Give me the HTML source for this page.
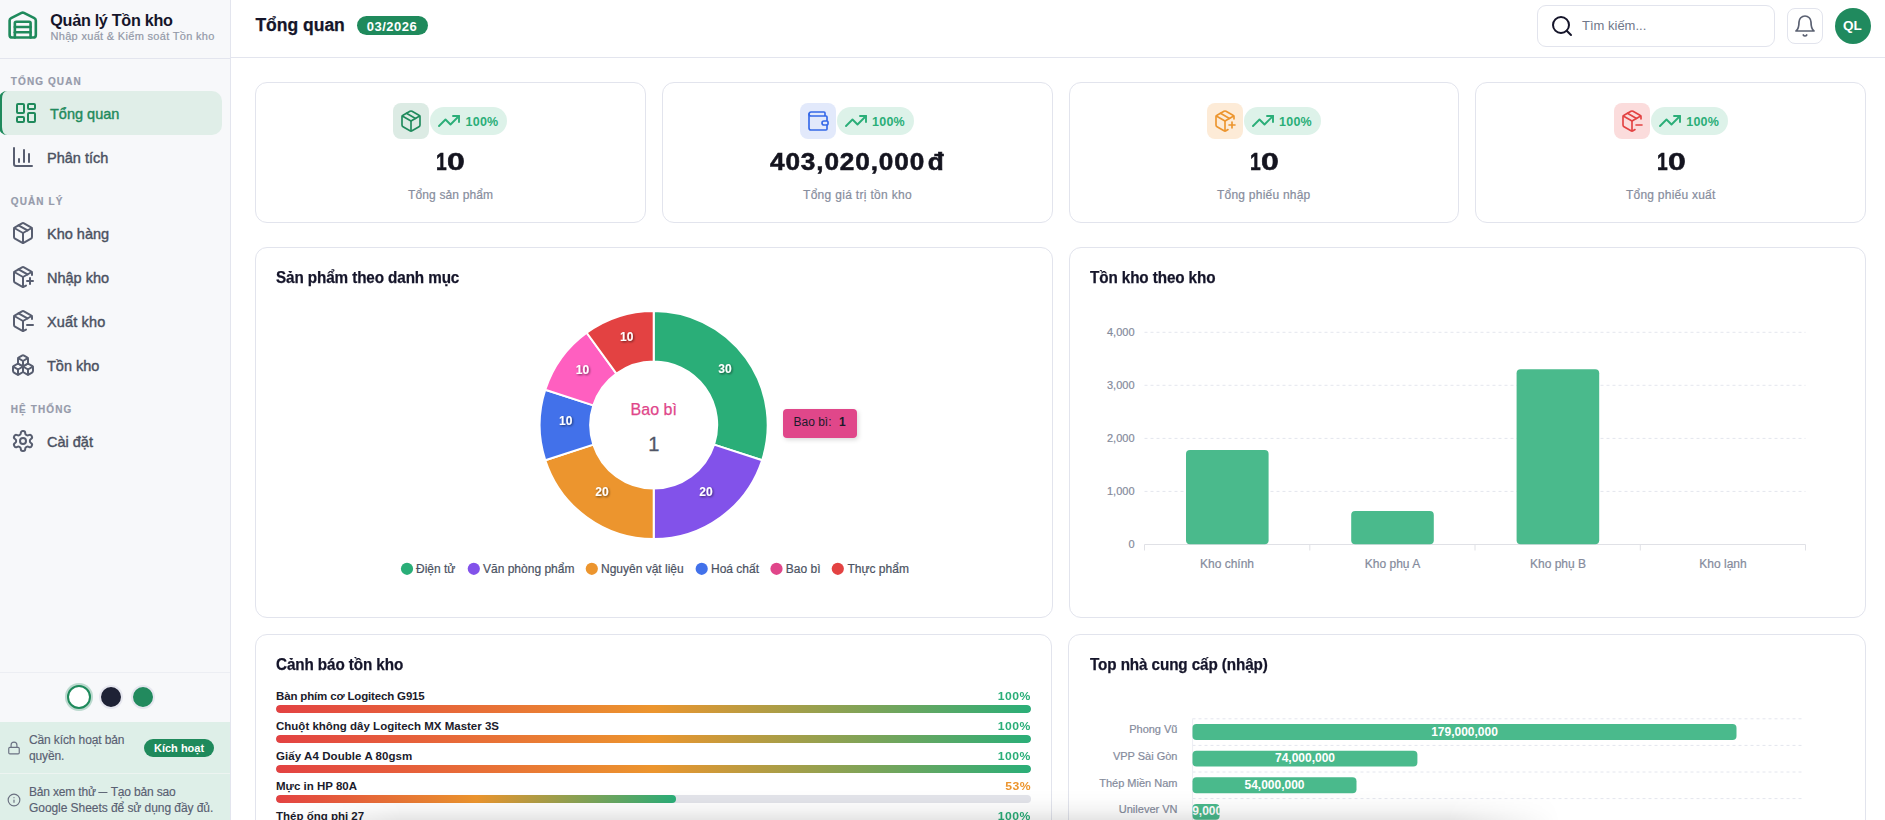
<!DOCTYPE html>
<html lang="vi">
<head>
<meta charset="utf-8">
<title>Quản lý Tồn kho</title>
<style>
*{box-sizing:border-box;margin:0;padding:0}
html,body{width:1885px;height:820px;overflow:hidden;background:#fff}
body{font-family:"Liberation Sans",sans-serif;color:#15152a;position:relative}
.abs,.t{position:absolute;white-space:nowrap}
.t{line-height:1;transform-origin:0 50%}
svg.ic{position:absolute;fill:none;stroke:currentColor;stroke-width:2;stroke-linecap:round;stroke-linejoin:round}

/* ---------- sidebar ---------- */
#side{position:absolute;left:0;top:0;width:231px;height:820px;background:#f7f8fa;border-right:1px solid #e3e5ee}
#brand{position:absolute;left:0;top:0;width:230px;height:59px;border-bottom:1px solid #e3e5ee}
.sec{font-size:10px;font-weight:700;letter-spacing:1.1px;color:#969bab;left:10.8px;margin-top:.4px;-webkit-text-stroke:.2px #969bab}
.nav{position:absolute;left:0;width:222px;height:44px;color:#585e70}
.nav .t{font-size:14.5px;left:47px;top:16.2px;color:#4b5161;-webkit-text-stroke:.4px currentColor}
.nav svg.ic{left:11px;top:10px;width:24px;height:24px}
.nav.on{left:-.7px;width:222.7px;background:#e0eee8;border-left:3px solid #1f8a5c;border-radius:8px 10px 10px 8px;color:#1f8a5c}
.nav.on .t{left:47.7px;color:#1f8a5c}
.nav.on svg.ic{left:11.7px}
.dot{position:absolute;top:685px;width:24px;height:24px;border-radius:50%;border:2px solid #e6e7ef}
#lic{position:absolute;left:0;top:722px;width:230px;height:51px;background:#deefe8}
#demo{position:absolute;left:0;top:774px;width:230px;height:46px;background:#deefe8}
.note{font-size:12px;color:#596072;left:29px;-webkit-text-stroke:.15px #596072}
.dash{display:inline-block;transform:scaleX(.73);margin:0 -1.6px}

/* ---------- header ---------- */
#head{position:absolute;left:231px;top:0;width:1654px;height:58px;border-bottom:1px solid #e3e5ee;background:#fff}

/* ---------- cards ---------- */
.card{position:absolute;background:#fff;border:1px solid #e2e4ed;border-radius:12px}
.ctitle{font-size:16px;letter-spacing:-.1px;transform:scaleX(.952);font-weight:700;color:#15152a;margin-top:1px;-webkit-text-stroke:.25px #15152a}
.ibox{position:absolute;width:36px;height:36px;border-radius:8px;top:103px}
.ibox svg.ic{left:6px;top:6px;width:24px;height:24px;stroke-width:1.65}
.pill{position:absolute;top:107px;width:77px;height:28px;border-radius:14px;background:#ddf2e9;color:#2aae78}
.pill svg.ic{left:7px;top:2px;width:24px;height:24px;stroke-width:1.9}
.pill .t{left:35.6px;top:9.2px;font-size:12.5px;letter-spacing:.2px;font-weight:700;color:#2aae78}
.num{font-size:24px;font-weight:700;color:#14141f;top:150.1px;-webkit-text-stroke:.55px #14141f}
.num b,.num i{display:inline-block;font-style:normal;font-weight:700;transform-origin:0 50%}
.num b{transform:scaleX(.8);margin-right:-2.4px}
.num i{transform:scaleX(1.33)}
.lab{font-size:12px;color:#878d9d;top:188.9px;-webkit-text-stroke:.2px #878d9d}

.wl{left:276px;font-size:11.5px;font-weight:700;color:#1b1b2b}
.wp{right:853.9px;font-size:11.4px;letter-spacing:.45px;font-weight:700;color:#2aae78;transform-origin:100% 50%;transform:scaleX(1.07);margin-top:.3px}
.wb{position:absolute;left:276px;width:755px;height:8px;border-radius:4px;background:#e3e4ea;overflow:hidden}
.wb i{display:block;height:8px;border-radius:4px;background:linear-gradient(90deg,#e34242 0%,#ec952e 50%,#2aae78 100%)}
</style>
</head>
<body>

<!-- ================= SIDEBAR ================= -->
<div id="side">
  <div id="brand">
    <svg class="ic" style="left:6.68px;top:10.45px;width:31.44px;height:31.44px;color:#1f8a5c;stroke-width:2" viewBox="0 0 24 24"><path d="M18 21V10a1 1 0 0 0-1-1H7a1 1 0 0 0-1 1v11"/><path d="M22 19a2 2 0 0 1-2 2H4a2 2 0 0 1-2-2V8a2 2 0 0 1 1.132-1.803l7.95-3.974a2 2 0 0 1 1.837 0l7.95 3.974A2 2 0 0 1 22 8z"/><path d="M6 13h12"/><path d="M6 17h12"/></svg>
    <div class="t" id="b1" style="left:50.3px;top:11.5px;font-size:16.2px;letter-spacing:-.3px;font-weight:700;color:#15152a">Quản lý Tồn kho</div>
    <div class="t" id="b2" style="left:50.5px;top:30.5px;font-size:11px;letter-spacing:.31px;color:#9399a8;-webkit-text-stroke:.2px #9399a8">Nhập xuất &amp; Kiểm soát Tồn kho</div>
  </div>

  <div class="t sec" id="s1" style="top:76.5px">TỔNG QUAN</div>
  <div class="nav on" style="top:91px">
    <svg class="ic" viewBox="0 0 24 24"><rect width="7" height="9" x="3" y="3" rx="1"/><rect width="7" height="5" x="14" y="3" rx="1"/><rect width="7" height="9" x="14" y="12" rx="1"/><rect width="7" height="5" x="3" y="16" rx="1"/></svg>
    <div class="t" id="n1">Tổng quan</div>
  </div>
  <div class="nav" style="top:135px">
    <svg class="ic" viewBox="0 0 24 24"><path d="M3 3v16a2 2 0 0 0 2 2h16"/><path d="M18 17V9"/><path d="M13 17V5"/><path d="M8 17v-3"/></svg>
    <div class="t" id="n2">Phân tích</div>
  </div>

  <div class="t sec" id="s2" style="top:196.5px">QUẢN LÝ</div>
  <div class="nav" style="top:211px">
    <svg class="ic" viewBox="0 0 24 24"><path d="M11 21.73a2 2 0 0 0 2 0l7-4A2 2 0 0 0 21 16V8a2 2 0 0 0-1-1.73l-7-4a2 2 0 0 0-2 0l-7 4A2 2 0 0 0 3 8v8a2 2 0 0 0 1 1.73z"/><path d="M12 22V12"/><polyline points="3.29 7 12 12 20.71 7"/><path d="m7.5 4.27 9 5.15"/></svg>
    <div class="t" id="n3">Kho hàng</div>
  </div>
  <div class="nav" style="top:255px">
    <svg class="ic" viewBox="0 0 24 24"><path d="M16 16h6"/><path d="M19 13v6"/><path d="M21 10V8a2 2 0 0 0-1-1.73l-7-4a2 2 0 0 0-2 0l-7 4A2 2 0 0 0 3 8v8a2 2 0 0 0 1 1.73l7 4a2 2 0 0 0 2 0l2-1.14"/><path d="m7.5 4.27 9 5.15"/><polyline points="3.29 7 12 12 20.71 7"/><line x1="12" x2="12" y1="22" y2="12"/></svg>
    <div class="t" id="n4">Nhập kho</div>
  </div>
  <div class="nav" style="top:299px">
    <svg class="ic" viewBox="0 0 24 24"><path d="M16 16h6"/><path d="M21 10V8a2 2 0 0 0-1-1.73l-7-4a2 2 0 0 0-2 0l-7 4A2 2 0 0 0 3 8v8a2 2 0 0 0 1 1.73l7 4a2 2 0 0 0 2 0l2-1.14"/><path d="m7.5 4.27 9 5.15"/><polyline points="3.29 7 12 12 20.71 7"/><line x1="12" x2="12" y1="22" y2="12"/></svg>
    <div class="t" id="n5" style="letter-spacing:.14px">Xuất kho</div>
  </div>
  <div class="nav" style="top:343px">
    <svg class="ic" viewBox="0 0 24 24"><path d="M2.97 12.92A2 2 0 0 0 2 14.63v3.24a2 2 0 0 0 .97 1.71l3 1.8a2 2 0 0 0 2.06 0L12 19v-5.5l-5-3-4.03 2.42Z"/><path d="m7 16.5-4.74-2.85"/><path d="m7 16.5 5-3"/><path d="M7 16.5v5.17"/><path d="M12 13.5V19l3.97 2.38a2 2 0 0 0 2.06 0l3-1.8a2 2 0 0 0 .97-1.71v-3.24a2 2 0 0 0-.97-1.71L17 10.5l-5 3Z"/><path d="m17 16.5-5-3"/><path d="m17 16.5 4.74-2.85"/><path d="M17 16.5v5.17"/><path d="M7.97 4.42A2 2 0 0 0 7 6.13v4.37l5 3 5-3V6.13a2 2 0 0 0-.97-1.71l-3-1.8a2 2 0 0 0-2.06 0l-3 1.8Z"/><path d="M12 8 7.26 5.15"/><path d="m12 8 4.74-2.85"/><path d="M12 13.5V8"/></svg>
    <div class="t" id="n6">Tồn kho</div>
  </div>

  <div class="t sec" id="s3" style="top:404.5px">HỆ THỐNG</div>
  <div class="nav" style="top:419px">
    <svg class="ic" viewBox="0 0 24 24"><path d="M12.22 2h-.44a2 2 0 0 0-2 2v.18a2 2 0 0 1-1 1.73l-.43.25a2 2 0 0 1-2 0l-.15-.08a2 2 0 0 0-2.73.73l-.22.38a2 2 0 0 0 .73 2.73l.15.1a2 2 0 0 1 1 1.72v.51a2 2 0 0 1-1 1.74l-.15.09a2 2 0 0 0-.73 2.73l.22.38a2 2 0 0 0 2.73.73l.15-.08a2 2 0 0 1 2 0l.43.25a2 2 0 0 1 1 1.73V20a2 2 0 0 0 2 2h.44a2 2 0 0 0 2-2v-.18a2 2 0 0 1 1-1.73l.43-.25a2 2 0 0 1 2 0l.15.08a2 2 0 0 0 2.73-.73l.22-.39a2 2 0 0 0-.73-2.73l-.15-.08a2 2 0 0 1-1-1.74v-.5a2 2 0 0 1 1-1.74l.15-.09a2 2 0 0 0 .73-2.73l-.22-.38a2 2 0 0 0-2.73-.73l-.15.08a2 2 0 0 1-2 0l-.43-.25a2 2 0 0 1-1-1.73V4a2 2 0 0 0-2-2z"/><circle cx="12" cy="12" r="3"/></svg>
    <div class="t" id="n7">Cài đặt</div>
  </div>

  <div class="abs" style="left:0;top:672px;width:230px;height:1px;background:#eceef3"></div>
  <div class="dot" style="left:67px;background:#fff;border-color:#1f8a5c;box-shadow:0 0 0 2px rgba(31,138,92,.28)"></div>
  <div class="dot" style="left:99px;background:#1e2235"></div>
  <div class="dot" style="left:131px;background:#228a5e"></div>

  <div id="lic">
    <svg class="ic" style="left:7px;top:19px;width:14px;height:14px;color:#6b7182" viewBox="0 0 24 24"><rect width="18" height="11" x="3" y="11" rx="2" ry="2"/><path d="M7 11V7a5 5 0 0 1 10 0v4"/></svg>
    <div class="t note" id="l1" style="top:12.3px;letter-spacing:-.12px">Cần kích hoạt bản</div>
    <div class="t note" id="l2" style="top:28.3px;letter-spacing:-.12px">quyền.</div>
    <div class="abs" style="left:144px;top:17px;width:70px;height:18px;border-radius:9px;background:#1f8a5c"></div>
    <div class="t" id="l3" style="left:154px;top:20.5px;font-size:11px;font-weight:700;color:#fff">Kích hoạt</div>
  </div>
  <div class="abs" style="left:0;top:773px;width:230px;height:1px;background:#edf4f1"></div>
  <div id="demo">
    <svg class="ic" style="left:7px;top:19px;width:14px;height:14px;color:#6b7182" viewBox="0 0 24 24"><circle cx="12" cy="12" r="10"/><path d="M12 16v-4"/><path d="M12 8h.01"/></svg>
    <div class="t note" id="d1" style="top:12.3px;letter-spacing:-.17px">Bản xem thử <span class="dash">—</span> Tạo bản sao</div>
    <div class="t note" id="d2" style="top:28.3px;letter-spacing:-.06px">Google Sheets để sử dụng đầy đủ.</div>
  </div>
</div>

<!-- ================= HEADER ================= -->
<div id="head">
  <div class="t" id="h1" style="left:24.4px;top:17.3px;font-size:17.5px;letter-spacing:0;-webkit-text-stroke:.25px #15152a;font-weight:700;color:#15152a">Tổng quan</div>
  <div class="abs" style="left:126px;top:16px;width:71px;height:19px;border-radius:10px;background:#1f8a5c"></div>
  <div class="t" id="h2" style="left:135.8px;top:19.7px;font-size:13px;letter-spacing:.5px;font-weight:700;color:#fff">03/2026</div>

  <div class="abs" style="left:1306px;top:5px;width:238px;height:42px;border:1px solid #e2e4ed;border-radius:9px;background:#fff"></div>
  <svg class="ic" style="left:1319px;top:14px;width:24px;height:24px;color:#15152a" viewBox="0 0 24 24"><circle cx="11" cy="11" r="8"/><path d="m21 21-4.3-4.3"/></svg>
  <div class="t" id="h3" style="left:1351px;top:19px;font-size:13px;color:#70778a">Tìm kiếm...</div>
  <div class="abs" style="left:1556px;top:8px;width:36px;height:36px;border:1px solid #e2e4ed;border-radius:8px;background:#fff"></div>
  <svg class="ic" style="left:1562px;top:14px;width:24px;height:24px;color:#5b6172;stroke-width:1.7" viewBox="0 0 24 24"><path d="M6 8a6 6 0 0 1 12 0c0 7 3 9 3 9H3s3-2 3-9"/><path d="M10.3 21a1.94 1.94 0 0 0 3.4 0"/></svg>
  <div class="abs" style="left:1604px;top:8px;width:36px;height:36px;border-radius:50%;background:#208a5e"></div>
  <div class="t" id="h4" style="left:1612px;top:19.3px;font-size:13.5px;font-weight:700;color:#fff">QL</div>
</div>


<!-- ================= STAT CARDS ================= -->
<div class="card" style="left:255px;top:82px;width:391px;height:141px"></div>
<div class="card" style="left:662px;top:82px;width:391px;height:141px"></div>
<div class="card" style="left:1069px;top:82px;width:390px;height:141px"></div>
<div class="card" style="left:1475px;top:82px;width:391px;height:141px"></div>

<div class="ibox" style="left:393px;background:#dcebe4;color:#1f8a5c"><svg class="ic" viewBox="0 0 24 24"><path d="M11 21.73a2 2 0 0 0 2 0l7-4A2 2 0 0 0 21 16V8a2 2 0 0 0-1-1.73l-7-4a2 2 0 0 0-2 0l-7 4A2 2 0 0 0 3 8v8a2 2 0 0 0 1 1.73z"/><path d="M12 22V12"/><polyline points="3.29 7 12 12 20.71 7"/><path d="m7.5 4.27 9 5.15"/></svg></div>
<div class="pill" style="left:430px"><svg class="ic" viewBox="0 0 24 24"><polyline points="22 7 13.5 15.5 8.5 10.5 2 17"/><polyline points="16 7 22 7 22 13"/></svg><div class="t" id="p1">100%</div></div>
<div class="t num" id="c1n" style="left:436px"><b>1</b><i>0</i></div>
<div class="t lab" id="c1l" style="left:408px;letter-spacing:.14px">Tổng sản phẩm</div>

<div class="ibox" style="left:800px;background:#e2e9fb;color:#3568e8"><svg class="ic" viewBox="0 0 24 24"><path d="M19 7V4a1 1 0 0 0-1-1H5a2 2 0 0 0 0 4h15a1 1 0 0 1 1 1v4h-3a2 2 0 0 0 0 4h3a1 1 0 0 0 1-1v-2a1 1 0 0 0-1-1"/><path d="M3 5v14a2 2 0 0 0 2 2h15a1 1 0 0 0 1-1v-4"/></svg></div>
<div class="pill" style="left:836.5px"><svg class="ic" viewBox="0 0 24 24"><polyline points="22 7 13.5 15.5 8.5 10.5 2 17"/><polyline points="16 7 22 7 22 13"/></svg><div class="t" id="p2">100%</div></div>
<div class="t num" id="c2n" style="left:769.7px;letter-spacing:.8px;transform:scaleX(1.09)">403,020,000 <span style="margin-left:-5px">đ</span></div>
<div class="t lab" id="c2l" style="left:803px;letter-spacing:.31px">Tổng giá trị tồn kho</div>

<div class="ibox" style="left:1207px;background:#fdebd7;color:#ec952e"><svg class="ic" viewBox="0 0 24 24"><path d="M16 16h6"/><path d="M19 13v6"/><path d="M21 10V8a2 2 0 0 0-1-1.73l-7-4a2 2 0 0 0-2 0l-7 4A2 2 0 0 0 3 8v8a2 2 0 0 0 1 1.73l7 4a2 2 0 0 0 2 0l2-1.14"/><path d="m7.5 4.27 9 5.15"/><polyline points="3.29 7 12 12 20.71 7"/><line x1="12" x2="12" y1="22" y2="12"/></svg></div>
<div class="pill" style="left:1243.5px"><svg class="ic" viewBox="0 0 24 24"><polyline points="22 7 13.5 15.5 8.5 10.5 2 17"/><polyline points="16 7 22 7 22 13"/></svg><div class="t" id="p3">100%</div></div>
<div class="t num" id="c3n" style="left:1250px"><b>1</b><i>0</i></div>
<div class="t lab" id="c3l" style="left:1217px;letter-spacing:.23px">Tổng phiếu nhập</div>

<div class="ibox" style="left:1614px;background:#fbdcdc;color:#e34242"><svg class="ic" viewBox="0 0 24 24"><path d="M16 16h6"/><path d="M21 10V8a2 2 0 0 0-1-1.73l-7-4a2 2 0 0 0-2 0l-7 4A2 2 0 0 0 3 8v8a2 2 0 0 0 1 1.73l7 4a2 2 0 0 0 2 0l2-1.14"/><path d="m7.5 4.27 9 5.15"/><polyline points="3.29 7 12 12 20.71 7"/><line x1="12" x2="12" y1="22" y2="12"/></svg></div>
<div class="pill" style="left:1650.7px"><svg class="ic" viewBox="0 0 24 24"><polyline points="22 7 13.5 15.5 8.5 10.5 2 17"/><polyline points="16 7 22 7 22 13"/></svg><div class="t" id="p4">100%</div></div>
<div class="t num" id="c4n" style="left:1657px"><b>1</b><i>0</i></div>
<div class="t lab" id="c4l" style="left:1626px;letter-spacing:.23px">Tổng phiếu xuất</div>

<!-- ================= CHART CARDS ================= -->
<div class="card" style="left:255px;top:247px;width:798px;height:371px"></div>
<div class="card" style="left:1069px;top:247px;width:797px;height:371px"></div>
<div class="card" style="left:255px;top:634px;width:797px;height:260px"></div>
<div class="card" style="left:1068px;top:634px;width:798px;height:260px"></div>

<div class="t ctitle" id="t1" style="left:276px;top:269px">Sản phẩm theo danh mục</div>
<div class="t ctitle" id="t2" style="left:1090px;top:269px">Tồn kho theo kho</div>
<div class="t ctitle" id="t3" style="left:276px;top:656px">Cảnh báo tồn kho</div>
<div class="t ctitle" id="t4" style="left:1090px;top:656px">Top nhà cung cấp (nhập)</div>


<svg id="charts" class="abs" style="left:0;top:0" width="1885" height="820" viewBox="0 0 1885 820" font-family="Liberation Sans, sans-serif">
  <defs>
    <filter id="ds" x="-50%" y="-50%" width="200%" height="200%"><feDropShadow dx="1" dy="1" stdDeviation="1" flood-color="#000" flood-opacity=".55"/></filter>
    <filter id="ts" x="-30%" y="-50%" width="160%" height="220%"><feDropShadow dx="1.5" dy="2" stdDeviation="2.2" flood-color="#000" flood-opacity=".14"/></filter>
  </defs>

  <!-- donut -->
  <g stroke="#fff" stroke-width="2" stroke-linejoin="round">
    <path d="M653.70 311.00A114 114 0 0 1 762.12 460.23L714.09 444.62A63.5 63.5 0 0 0 653.70 361.50Z" fill="#2aae78"/>
    <path d="M762.12 460.23A114 114 0 0 1 653.70 539.00L653.70 488.50A63.5 63.5 0 0 0 714.09 444.62Z" fill="#8252ea"/>
    <path d="M653.70 539.00A114 114 0 0 1 545.28 460.23L593.31 444.62A63.5 63.5 0 0 0 653.70 488.50Z" fill="#ec952e"/>
    <path d="M545.28 460.23A114 114 0 0 1 545.28 389.77L593.31 405.38A63.5 63.5 0 0 0 593.31 444.62Z" fill="#4271ea"/>
    <path d="M545.28 389.77A114 114 0 0 1 586.69 332.77L616.38 373.63A63.5 63.5 0 0 0 593.31 405.38Z" fill="#ff5fc0"/>
    <path d="M586.69 332.77A114 114 0 0 1 653.70 311.00L653.70 361.50A63.5 63.5 0 0 0 616.38 373.63Z" fill="#e34242"/>
  </g>
  <g font-size="12" font-weight="700" fill="#fff" text-anchor="middle" filter="url(#ds)">
    <text x="725" y="373.3">30</text>
    <text x="706" y="496.3">20</text>
    <text x="602" y="496.3">20</text>
    <text x="565.7" y="425.3">10</text>
    <text x="582.5" y="373.6">10</text>
    <text x="626.7" y="341.3">10</text>
  </g>
  <text x="653.7" y="414.5" font-size="16" fill="#e0468a" stroke="#e0468a" stroke-width=".25" text-anchor="middle">Bao bì</text>
  <text x="653.7" y="450.5" font-size="20" fill="#4f5666" stroke="#4f5666" stroke-width=".3" text-anchor="middle">1</text>

  <!-- tooltip -->
  <rect x="783" y="409" width="74" height="29" rx="4" fill="#e0468a" filter="url(#ts)"/>
  <text x="793.5" y="426" font-size="12" fill="#1b1b2b">Bao bì:</text><text x="839" y="426" font-size="12" font-weight="700" fill="#1b1b2b">1</text>

  <!-- legend -->
  <g font-size="12" fill="#4b5262" stroke="#4b5262" stroke-width=".2">
    <circle cx="407" cy="568.8" r="6.1" fill="#2aae78" stroke="none"/><text x="416" y="573">Điện tử</text>
    <circle cx="473.8" cy="568.8" r="6.1" fill="#8252ea" stroke="none"/><text x="483" y="573">Văn phòng phẩm</text>
    <circle cx="591.8" cy="568.8" r="6.1" fill="#ec952e" stroke="none"/><text x="601" y="573">Nguyên vật liệu</text>
    <circle cx="701.7" cy="568.8" r="6.1" fill="#4271ea" stroke="none"/><text x="711" y="573">Hoá chất</text>
    <circle cx="776.5" cy="568.8" r="6.1" fill="#e0468a" stroke="none"/><text x="785.8" y="573">Bao bì</text>
    <circle cx="837.8" cy="568.8" r="6.1" fill="#e34242" stroke="none"/><text x="847.5" y="573">Thực phẩm</text>
  </g>

  <!-- bar chart -->
  <g stroke="#e4e6ee" stroke-width="1" stroke-dasharray="3 3" fill="none">
    <path d="M1144.5 332.3H1805.5"/><path d="M1144.5 385.3H1805.5"/><path d="M1144.5 438.4H1805.5"/><path d="M1144.5 491.4H1805.5"/>
  </g>
  <path d="M1144.5 544.5H1805.5M1144.5 544.5v6M1309.8 544.5v6M1475 544.5v6M1640.3 544.5v6M1805.5 544.5v6" stroke="#e0e1e6" stroke-width="1" fill="none"/>
  <g fill="#4aba8c">
    <rect x="1186" y="450" width="82.6" height="94.3" rx="4"/>
    <rect x="1351.2" y="511" width="82.6" height="33.3" rx="4"/>
    <rect x="1516.6" y="369.2" width="82.6" height="175.1" rx="4"/>
  </g>
  <g font-size="11" fill="#858b9c" stroke="#858b9c" stroke-width=".2" text-anchor="end">
    <text x="1134.5" y="336.2">4,000</text><text x="1134.5" y="389.2">3,000</text><text x="1134.5" y="442.3">2,000</text><text x="1134.5" y="495.3">1,000</text><text x="1134.5" y="548.3">0</text>
  </g>
  <g font-size="12" fill="#858b9c" stroke="#858b9c" stroke-width=".2" text-anchor="middle">
    <text x="1227" y="568">Kho chính</text><text x="1392.5" y="568">Kho phụ A</text><text x="1558" y="568">Kho phụ B</text><text x="1723" y="568">Kho lạnh</text>
  </g>

  <!-- horizontal bar chart -->
  <g stroke="#e4e6ee" stroke-width="1" stroke-dasharray="3 3" fill="none">
    <path d="M1192.5 718.8H1802"/><path d="M1192.5 745.4H1802"/><path d="M1192.5 772H1802"/><path d="M1192.5 798.6H1802"/>
  </g>
  <path d="M1192.6 718.8V820" stroke="#eceef3" stroke-width="1" fill="none"/>
  <g fill="#4aba8c">
    <rect x="1192.5" y="724.1" width="544" height="15.9" rx="4"/>
    <rect x="1192.5" y="750.7" width="224.9" height="15.9" rx="4"/>
    <rect x="1192.5" y="777.3" width="164" height="15.9" rx="4"/>
    <rect x="1192.5" y="803.9" width="27.1" height="15.9" rx="4"/>
  </g>
  <g font-size="12" font-weight="700" fill="#fff" text-anchor="middle">
    <text x="1464.5" y="735.6">179,000,000</text>
    <text x="1305" y="762.1">74,000,000</text>
    <text x="1274.5" y="788.6">54,000,000</text>
    <text x="1192.2" y="815.1" text-anchor="start">9,000,000</text>
  </g>
  <g font-size="11" fill="#858b9c" stroke="#858b9c" stroke-width=".2" text-anchor="end">
    <text x="1177.5" y="732.8">Phong Vũ</text><text x="1177.5" y="759.5">VPP Sài Gòn</text><text x="1177.5" y="786.8">Thép Miền Nam</text><text x="1177.5" y="812.7">Unilever VN</text>
  </g>
</svg>

<!-- ================= STOCK WARNINGS ================= -->
<div id="warn">
  <div class="t wl" id="w1" style="top:690.5px;letter-spacing:-.16px">Bàn phím cơ Logitech G915</div><div class="t wp" style="top:690.5px">100%</div>
  <div class="wb" style="top:705px"><i style="width:100%"></i></div>
  <div class="t wl" id="w2" style="top:720.5px">Chuột không dây Logitech MX Master 3S</div><div class="t wp" style="top:720.5px">100%</div>
  <div class="wb" style="top:735px"><i style="width:100%"></i></div>
  <div class="t wl" id="w3" style="top:750.5px;letter-spacing:.07px">Giấy A4 Double A 80gsm</div><div class="t wp" style="top:750.5px">100%</div>
  <div class="wb" style="top:765px"><i style="width:100%"></i></div>
  <div class="t wl" id="w4" style="top:780.5px">Mực in HP 80A</div><div class="t wp" style="top:780.5px;color:#ec952e">53%</div>
  <div class="wb" style="top:795px"><i style="width:53%"></i></div>
  <div class="t wl" id="w5" style="top:810.5px">Thép ống phi 27</div><div class="t wp" style="top:810.5px">100%</div>
</div>

<!-- shadow of floating element below the fold -->
<div class="abs" style="left:283px;top:790px;width:1277px;height:30px;pointer-events:none;background:linear-gradient(to bottom,rgba(0,0,0,0) 0%,rgba(0,0,0,.012) 30%,rgba(0,0,0,.045) 65%,rgba(0,0,0,.1) 100%);-webkit-mask-image:linear-gradient(to right,transparent 0,rgba(0,0,0,.5) 60px,#000 120px,#000 1165px,rgba(0,0,0,.5) 1222px,transparent 1277px);mask-image:linear-gradient(to right,transparent 0,rgba(0,0,0,.5) 60px,#000 120px,#000 1165px,rgba(0,0,0,.5) 1222px,transparent 1277px)"></div>



</body>
</html>
